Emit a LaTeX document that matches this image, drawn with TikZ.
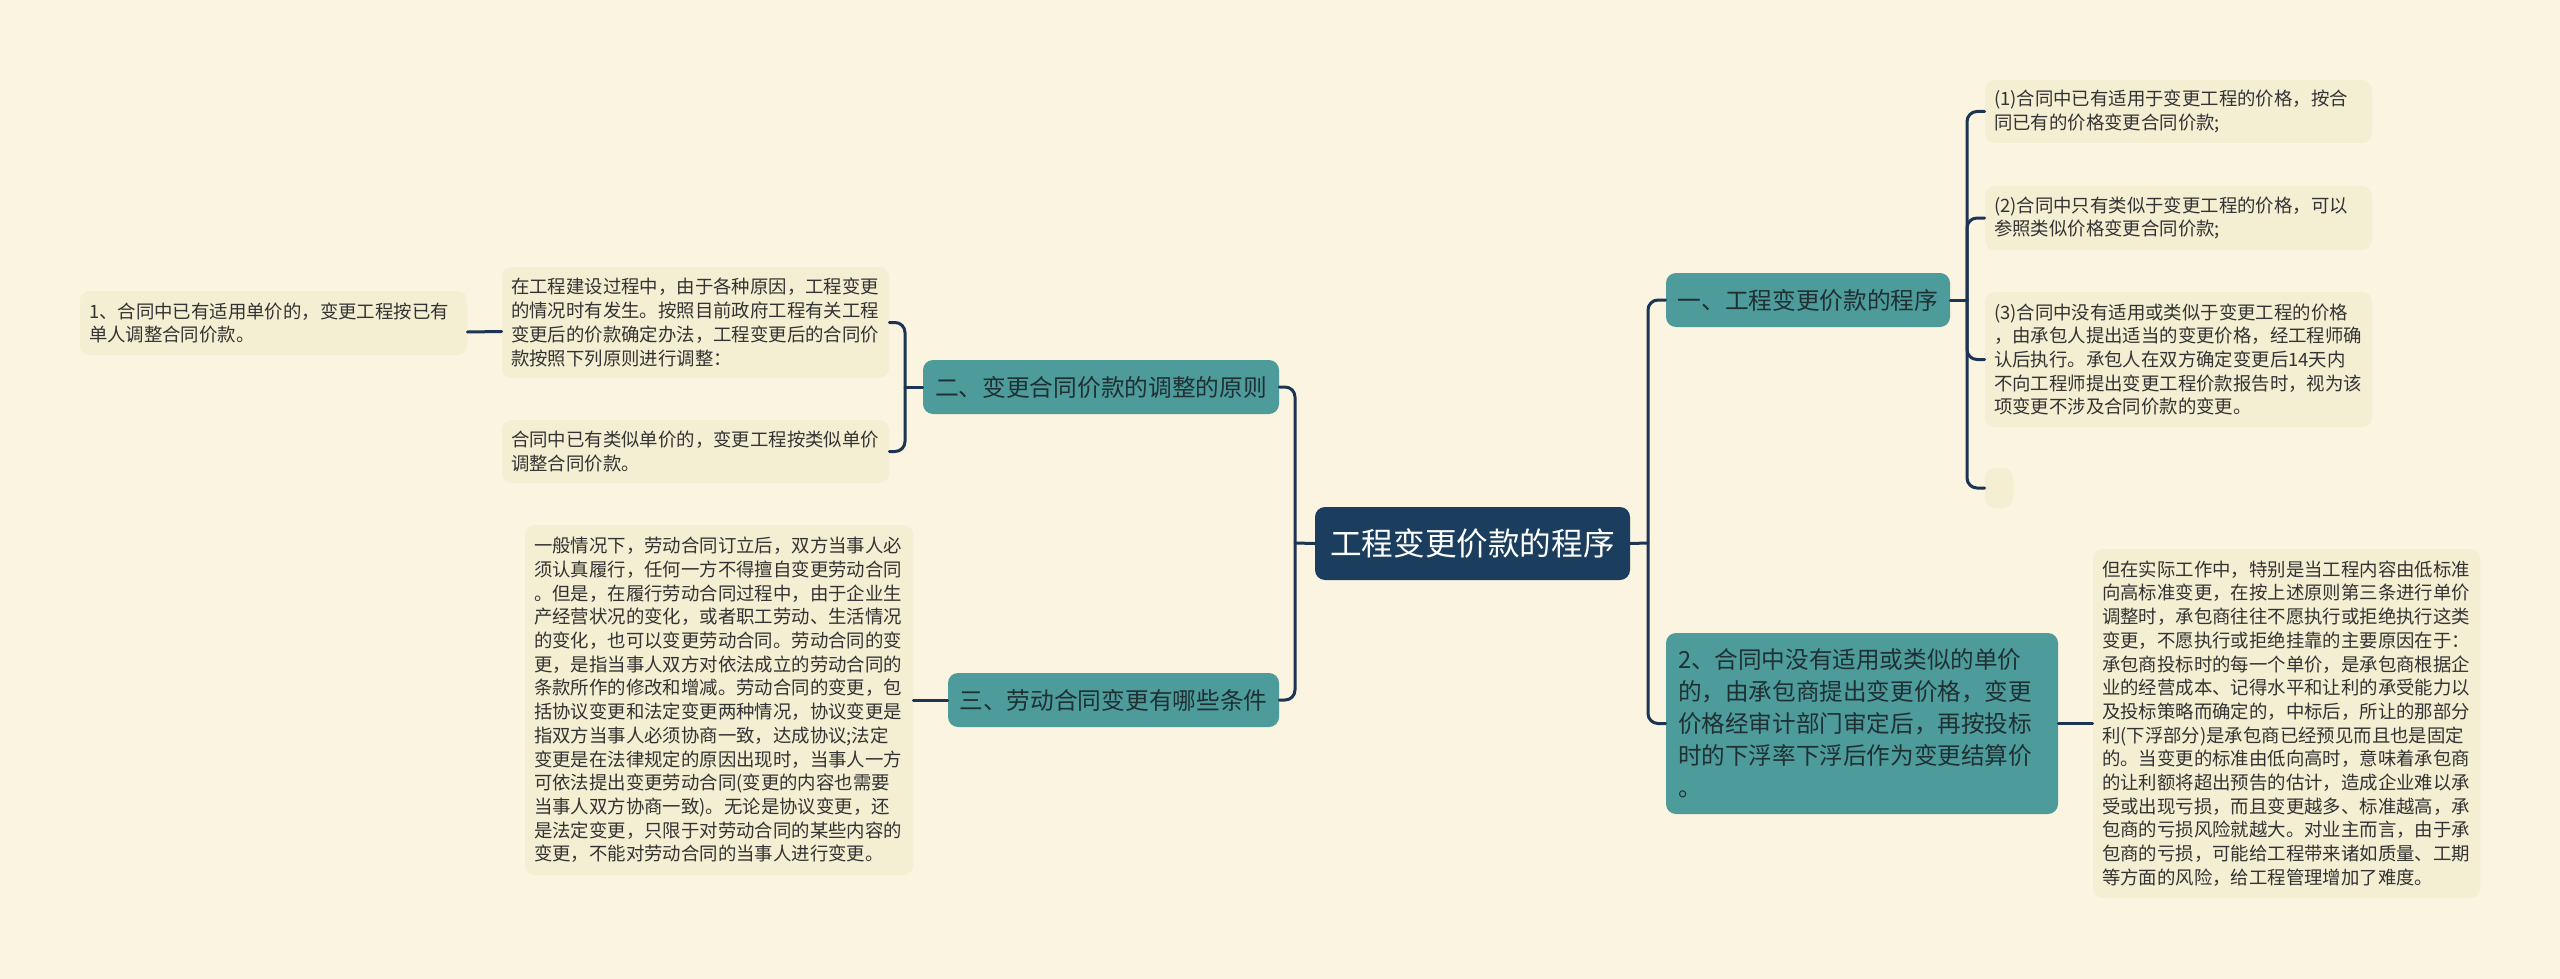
\documentclass[tikz,border=0pt]{standalone}
\usepackage{fontspec}
\setmainfont{Noto Sans CJK SC}
\definecolor{bg}{HTML}{FAF4E0}
\definecolor{leafc}{HTML}{F4EED2}
\definecolor{brc}{HTML}{4E9B9C}
\definecolor{rootc}{HTML}{1B3E5E}
\definecolor{linec}{HTML}{1C3552}
\definecolor{txtc}{HTML}{333333}
\definecolor{brtxt}{HTML}{1F3033}
\begin{document}
\begin{tikzpicture}[x=0.5pt,y=-0.5pt,
  leaf/.style={fill=leafc, rounded corners=5pt, text=txtc, align=left,
    inner xsep=4.5pt, inner ysep=0pt,
    font={\fontsize{9.2pt}{11.85pt}\selectfont}},
  branch/.style={fill=brc, rounded corners=5pt, text=brtxt, align=center,
    inner sep=0pt, minimum height=27pt,
    font={\fontsize{11.85pt}{14pt}\selectfont}},
  rootbox/.style={fill=rootc, rounded corners=5pt, text=white, align=center,
    inner sep=0pt, font={\fontsize{15.8pt}{18pt}\selectfont}},
  conn/.style={draw=linec, line width=1.5pt, rounded corners=5pt, line cap=round}]
\fill[bg] (0,0) rectangle (2560,979);
\useasboundingbox (0,0) rectangle (2560,979);

% root
\node[rootbox, minimum width=157.5pt, minimum height=36.5pt] (root) at (1472.5,543.5) {工程变更价款的程序};

% main branches
\node[branch, minimum width=142pt] (b1) at (1808,300) {一、工程变更价款的程序};
\node[branch, minimum width=178pt] (b2) at (1101,387) {二、变更合同价款的调整的原则};
\node[branch, minimum width=165.5pt] (b3) at (1113.5,700) {三、劳动合同变更有哪些条件};
\node[branch, align=left, inner xsep=6pt, minimum width=196pt, minimum height=90.5pt,
  text width=184pt, font={\fontsize{11.8pt}{16pt}\selectfont}] (b4) at (1862,723.5)
 {2、合同中没有适用或类似的单价\\的，由承包商提出变更价格，变更\\价格经审计部门审定后，再按投标\\时的下浮率下浮后作为变更结算价\\。};

% left leaves
\node[leaf, minimum width=193.5pt, minimum height=32pt, text width=184.5pt] (L1) at (273.5,323)
 {1、合同中已有适用单价的，变更工程按已有\\单人调整合同价款。};
\node[leaf, minimum width=193.5pt, minimum height=55.5pt, text width=184.5pt] (A) at (695.5,322.5)
 {在工程建设过程中，由于各种原因，工程变更\\的情况时有发生。按照目前政府工程有关工程\\变更后的价款确定办法，工程变更后的合同价\\款按照下列原则进行调整：};
\node[leaf, minimum width=193.5pt, minimum height=31.5pt, text width=184.5pt] (B) at (695.5,451.5)
 {合同中已有类似单价的，变更工程按类似单价\\调整合同价款。};
\node[leaf, minimum width=194pt, minimum height=175pt, text width=185pt] (C) at (719,700)
 {一般情况下，劳动合同订立后，双方当事人必\\须认真履行，任何一方不得擅自变更劳动合同\\。但是，在履行劳动合同过程中，由于企业生\\产经营状况的变化，或者职工劳动、生活情况\\的变化，也可以变更劳动合同。劳动合同的变\\更，是指当事人双方对依法成立的劳动合同的\\条款所作的修改和增减。劳动合同的变更，包\\括协议变更和法定变更两种情况，协议变更是\\指双方当事人必须协商一致，达成协议;法定\\变更是在法律规定的原因出现时，当事人一方\\可依法提出变更劳动合同(变更的内容也需要\\当事人双方协商一致)。无论是协议变更，还\\是法定变更，只限于对劳动合同的某些内容的\\变更，不能对劳动合同的当事人进行变更。};

% right leaves
\node[leaf, minimum width=193.5pt, minimum height=31.5pt, text width=184.5pt] (P1) at (2178.5,111.5)
 {(1)合同中已有适用于变更工程的价格，按合\\同已有的价格变更合同价款;};
\node[leaf, minimum width=193.5pt, minimum height=32pt, text width=184.5pt] (P2) at (2178.5,218)
 {(2)合同中只有类似于变更工程的价格，可以\\参照类似价格变更合同价款;};
\node[leaf, minimum width=193.5pt, minimum height=67.5pt, text width=184.5pt] (P3) at (2178.5,359.5)
 {(3)合同中没有适用或类似于变更工程的价格\\，由承包人提出适当的变更价格，经工程师确\\认后执行。承包人在双方确定变更后14天内\\不向工程师提出变更工程价款报告时，视为该\\项变更不涉及合同价款的变更。};
\node[leaf, minimum width=14pt, minimum height=20pt, inner xsep=0pt] (P4) at (1999,488) {};
\node[leaf, minimum width=193.5pt, minimum height=174.5pt, text width=184.5pt] (Q) at (2286.5,723.5)
 {但在实际工作中，特别是当工程内容由低标准\\向高标准变更，在按上述原则第三条进行单价\\调整时，承包商往往不愿执行或拒绝执行这类\\变更，不愿执行或拒绝挂靠的主要原因在于：\\承包商投标时的每一个单价，是承包商根据企\\业的经营成本、记得水平和让利的承受能力以\\及投标策略而确定的，中标后，所让的那部分\\利(下浮部分)是承包商已经预见而且也是固定\\的。当变更的标准由低向高时，意味着承包商\\的让利额将超出预告的估计，造成企业难以承\\受或出现亏损，而且变更越多、标准越高，承\\包商的亏损风险就越大。对业主而言，由于承\\包商的亏损，可能给工程带来诸如质量、工期\\等方面的风险，给工程管理增加了难度。};

% junction coordinates
\coordinate (tl) at (1295,543);
\coordinate (tr) at (1648,543);
\coordinate (t2) at (905,387);
\coordinate (t1) at (1967,300);

% connectors
\draw[conn] (root.west) -- (tl);
\draw[conn] (b2.east) -| (tl) |- (b3.east);
\draw[conn] (root.east) -- (tr);
\draw[conn] (b1.west) -| (tr) |- (b4.west);
\draw[conn] (b2.west) -- (t2);
\draw[conn] (A.east) -| (t2) |- (B.east);
\draw[conn] ([yshift=-4.5pt]L1.east) -- ([yshift=-4.5pt]A.west);
\draw[conn] (b3.west) -- (C.east);
\draw[conn] (b1.east) -- (t1);
\draw[conn] (P1.west) -| (t1) |- (P4.west);
\draw[conn] (P2.west) -| (t1);
\draw[conn] (P3.west) -| (t1);
\draw[conn] (b4.east) -- (Q.west);
\end{tikzpicture}
\end{document}
